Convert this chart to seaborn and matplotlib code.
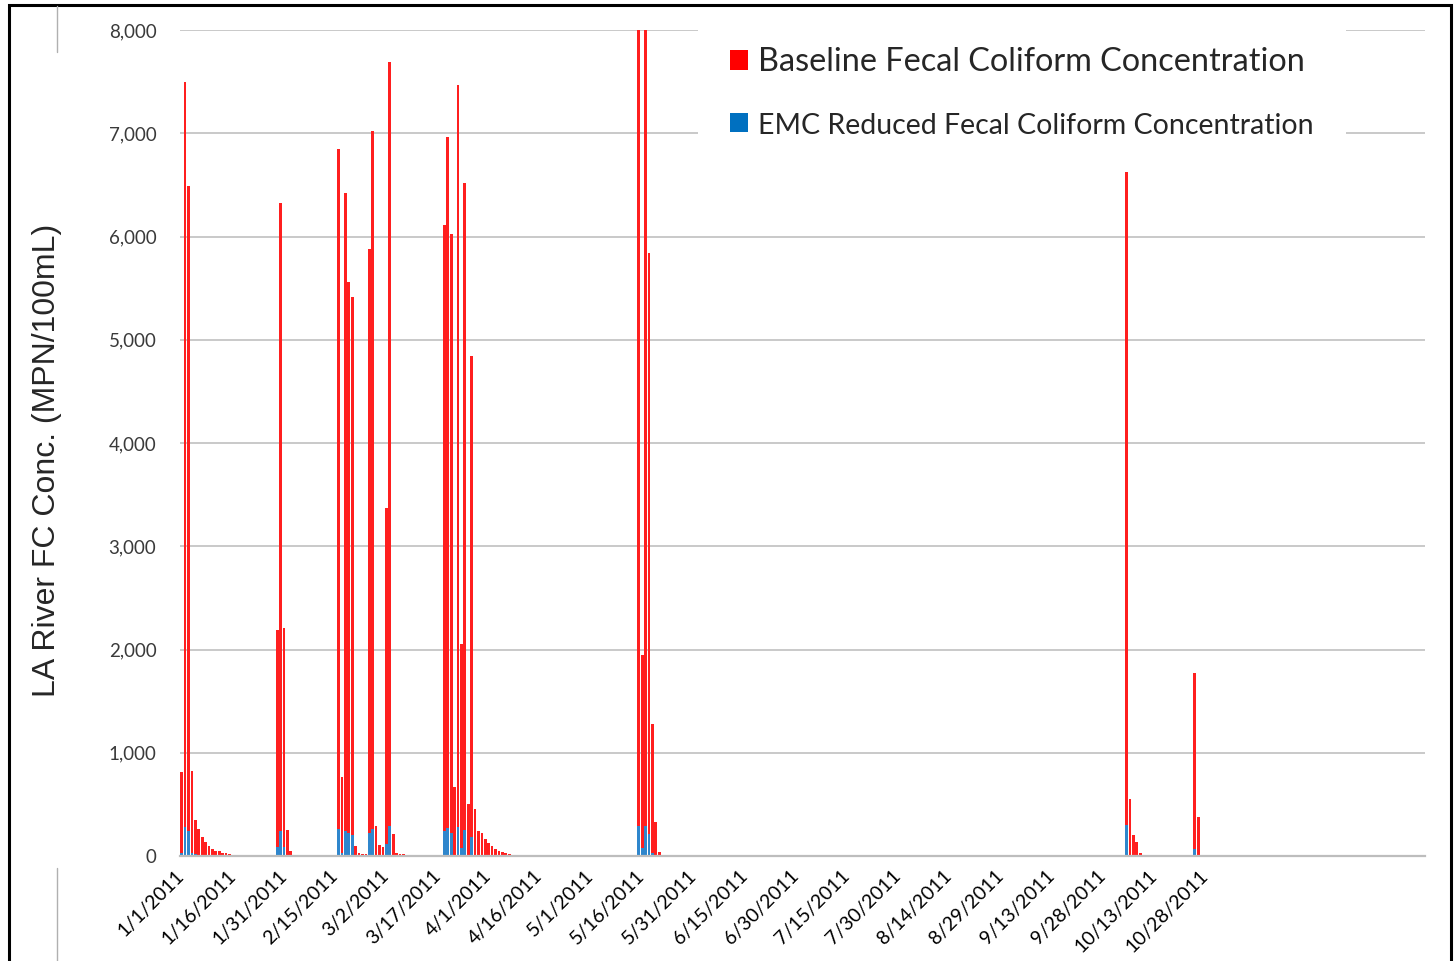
import pandas as pd
import matplotlib
matplotlib.use("Agg")
import matplotlib.pyplot as plt
from matplotlib.patches import Patch, Rectangle
from matplotlib.lines import Line2D
from matplotlib.ticker import FuncFormatter
import seaborn as sns

# Storm events: first day of each run of daily values (2011)
storm_start = ["2011-01-01", "2011-01-29", "2011-02-16", "2011-03-19",
               "2011-05-15", "2011-10-05", "2011-10-25"]

# Baseline fecal coliform (MPN/100mL), one value per day from storm_start
baseline_fc = [
    [816, 7500, 6490, 825, 349, 258, 187, 139, 100, 68, 52, 45, 26, 26, 20, 12, 10, 10, 10],
    [2190, 6320, 2210, 250, 45, 10, 10, 10, 10, 10],
    [6850, 768, 6420, 5560, 5410, 97, 26, 20, 15, 5880, 7020, 290, 110, 84, 3370, 7690,
     215, 30, 20, 15, 12, 10, 10, 10, 10, 10, 10, 10, 10],
    [6110, 6960, 6020, 670, 7465, 2050, 6515, 505, 4845, 455, 245, 220, 161, 123, 97,
     65, 52, 42, 26, 20, 13, 10, 10, 10, 10],
    [8000, 1950, 8000, 5845, 1280, 330, 42, 10, 10, 10, 10, 10, 10, 10],
    [6640, 550, 200, 133, 31, 10, 10, 10, 10],
    [1775, 378, 10],
]

# EMC reduced fecal coliform (MPN/100mL)
emc_fc = [
    [30, 284, 245, 25, 15, 10, 7, 5, 4, 3, 2, 2, 1, 1, 1, 0, 0, 0, 0],
    [84, 239, 84, 10, 2, 0, 0, 0, 0, 0],
    [265, 25, 245, 222, 203, 5, 1, 1, 1, 226, 265, 10, 5, 3, 120, 290,
     8, 1, 1, 1, 0, 0, 0, 0, 0, 0, 0, 0, 0],
    [245, 268, 226, 10, 284, 74, 252, 10, 181, 10, 8, 7, 5, 4, 3,
     2, 2, 1, 1, 1, 0, 0, 0, 0, 0],
    [294, 79, 294, 210, 26, 10, 2, 0, 0, 0, 0, 0, 0, 0],
    [300, 10, 5, 3, 1, 0, 0, 0, 0],
    [65, 10, 0],
]

tick_dates = ["1/1/2011", "1/16/2011", "1/31/2011", "2/15/2011", "3/2/2011",
              "3/17/2011", "4/1/2011", "4/16/2011", "5/1/2011", "5/16/2011",
              "5/31/2011", "6/15/2011", "6/30/2011", "7/15/2011", "7/30/2011",
              "8/14/2011", "8/29/2011", "9/13/2011", "9/28/2011", "10/13/2011",
              "10/28/2011"]

RED = "#ff1f1f"
BLUE = "#2f86cc"

# daily table
frames = []
for start, base, emc in zip(storm_start, baseline_fc, emc_fc):
    frames.append(pd.DataFrame({
        "date": pd.date_range(start, periods=len(base), freq="D"),
        "baseline": base,
        "emc": emc,
    }))
df = pd.concat(frames, ignore_index=True)
t0 = pd.Timestamp("2011-01-01")
df["day"] = (df["date"] - t0).dt.days

sns.set_style("white")
plt.rcParams["font.family"] = ["Lato", "DejaVu Sans"]

fig = plt.figure(figsize=(14.55, 9.61), dpi=100)
ax = fig.add_axes([180 / 1455, 1 - 856 / 961, 1245 / 1455, 826 / 961])

sns.barplot(data=df, x="day", y="baseline", native_scale=True, color=RED,
            saturation=1, width=0.8, errorbar=None, ax=ax, zorder=2, linewidth=0)
sns.barplot(data=df, x="day", y="emc", native_scale=True, color=BLUE,
            saturation=1, width=0.8, errorbar=None, ax=ax, zorder=3, linewidth=0)

ax.set_xlim(-0.5, 364.5)
ax.set_ylim(0, 8000)
ax.set_yticks(range(0, 8001, 1000))
ax.yaxis.set_major_formatter(FuncFormatter(lambda v, p: f"{v:,.0f}"))

tick_days = [(pd.Timestamp(d) - t0).days for d in tick_dates]
ax.set_xticks(tick_days)
ax.set_xticklabels(tick_dates, rotation=45, ha="right", va="center",
                   rotation_mode="anchor", fontsize=14, color="black")
ax.tick_params(axis="x", length=0, pad=12)
ax.tick_params(axis="y", length=0, pad=17, labelsize=13.5, labelcolor="#3a3a3a")

ax.yaxis.grid(True, color="#c9c9c9", linewidth=1.4)
ax.xaxis.grid(False)
ax.set_axisbelow(True)
for s in ["left", "right", "top"]:
    ax.spines[s].set_visible(False)
ax.spines["bottom"].set_color("#bdbdbd")
ax.spines["bottom"].set_linewidth(1.6)
ax.spines["bottom"].set_zorder(4)

ax.set_xlabel("")
ax.set_ylabel("")
fig.text(47 / 1455, 1 - 460 / 961, "LA River FC Conc. (MPN/100mL)", rotation=90,
         ha="center", va="center", fontsize=23, family=["Liberation Sans", "DejaVu Sans"])

handles = [Patch(facecolor="#ff0000", edgecolor="none"),
           Patch(facecolor="#0070c0", edgecolor="none")]
leg = ax.legend(handles, ["Baseline Fecal Coliform Concentration",
                          "EMC Reduced Fecal Coliform Concentration"],
                loc="upper left", bbox_to_anchor=((698 - 180) / 1245, (856 - 15) / 826),
                borderaxespad=0, fontsize=23.3, handlelength=0.55, handleheight=0.55,
                handletextpad=0.3, labelspacing=1.1, borderpad=1.0,
                frameon=True, facecolor="white", edgecolor="none", framealpha=1,
                fancybox=False)
leg.set_zorder(5)
leg.get_texts()[1].set_fontsize(20.5)

# slide frame around the chart
fig.add_artist(Rectangle((8.5 / 1455, -0.05), (1451 - 8.5) / 1455, 1.05 - 5 / 961,
                         transform=fig.transFigure, fill=False,
                         edgecolor="black", linewidth=2.2))
fig.add_artist(Line2D([57 / 1455, 57 / 1455], [1 - 6 / 961, 1 - 52 / 961],
                      transform=fig.transFigure, color="#b0b0b0", linewidth=1))
fig.add_artist(Line2D([57 / 1455, 57 / 1455], [1 - 868 / 961, 0],
                      transform=fig.transFigure, color="#b0b0b0", linewidth=1))

fig.savefig("out.png", dpi=100, facecolor="white")
